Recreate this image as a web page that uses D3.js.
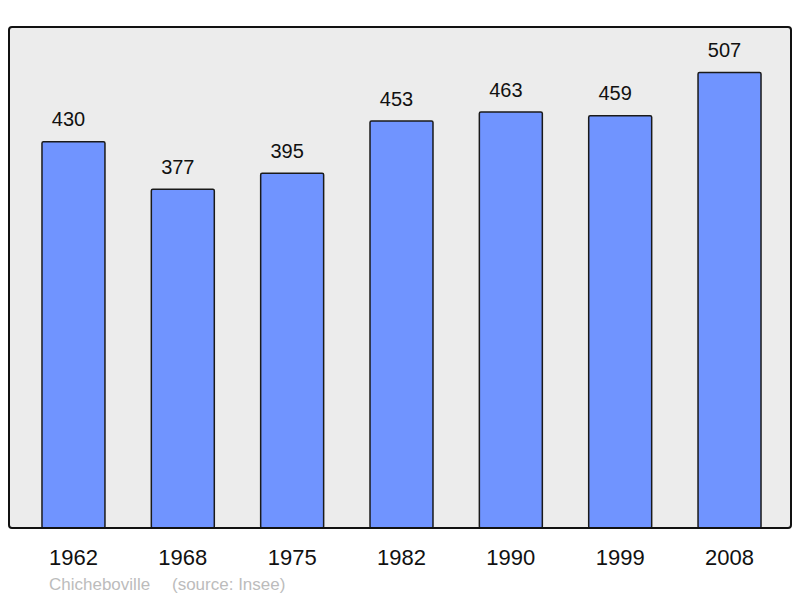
<!DOCTYPE html>
<html>
<head>
<meta charset="utf-8">
<script src="https://cdn.jsdelivr.net/npm/d3@7"></script>
<style>
  body { margin: 0; background: #fff; }
  svg { display: block; font-family: "Liberation Sans", Arial, sans-serif; }
</style>
</head>
<body>
<svg id="chart"></svg>
<script>
const years = ["1962", "1968", "1975", "1982", "1990", "1999", "2008"];
const population = [430, 377, 395, 453, 463, 459, 507];
const town = "Chicheboville";
const source = "(source: Insee)";

const width = 800, height = 598;
const frame = { left: 9, top: 27, right: 791, bottom: 528 };

const svg = d3.select("#chart")
  .attr("width", width)
  .attr("height", height);

// frame background
svg.append("rect")
  .attr("x", frame.left)
  .attr("y", frame.top)
  .attr("width", frame.right - frame.left)
  .attr("height", frame.bottom - frame.top)
  .attr("rx", 3)
  .attr("fill", "#ececec");

const x = d3.scaleBand()
  .domain(years)
  .range([18.8, 784.2])
  .paddingInner(0.424)
  .paddingOuter(0.212);

const y = d3.scaleLinear()
  .domain([0, d3.max(population) * 1.1])
  .range([frame.bottom, frame.top]);

const data = years.map((yr, i) => ({ year: yr, value: population[i] }));

svg.append("g")
  .selectAll("rect")
  .data(data)
  .enter().append("rect")
    .attr("x", d => x(d.year))
    .attr("y", d => y(d.value))
    .attr("width", x.bandwidth())
    .attr("height", d => y(0) - y(d.value))
    .attr("rx", 1.5)
    .attr("fill", "#7094ff")
    .attr("stroke", "#1a1a1a")
    .attr("stroke-width", 1.5);

// value labels (sit a little left of the bar centre, as in the original)
svg.append("g")
  .selectAll("text")
  .data(data)
  .enter().append("text")
    .attr("x", d => x(d.year) + x.bandwidth() / 2 - 5)
    .attr("y", d => y(d.value) - 15.5)
    .attr("text-anchor", "middle")
    .attr("font-size", 20)
    .attr("fill", "#111")
    .text(d => d.value);

// frame border drawn over the bars
svg.append("rect")
  .attr("x", frame.left)
  .attr("y", frame.top)
  .attr("width", frame.right - frame.left)
  .attr("height", frame.bottom - frame.top)
  .attr("rx", 3)
  .attr("fill", "none")
  .attr("stroke", "#111")
  .attr("stroke-width", 2);

// year labels
const xAxis = d3.axisBottom(x).tickSize(0).tickPadding(0);
const ax = svg.append("g")
  .attr("transform", `translate(0, ${frame.bottom})`)
  .call(xAxis);
ax.select(".domain").remove();
ax.selectAll("text")
  .attr("dy", null)
  .attr("y", 37)
  .attr("font-size", 22)
  .attr("font-family", "Liberation Sans, Arial, sans-serif")
  .attr("fill", "#111");

// footer
const foot = svg.append("text")
  .attr("y", 590)
  .attr("font-size", 17)
  .attr("fill", "#bcbcbc");
foot.append("tspan").attr("x", 49).text(town);
foot.append("tspan").attr("x", 172).text(source);
</script>
</body>
</html>
